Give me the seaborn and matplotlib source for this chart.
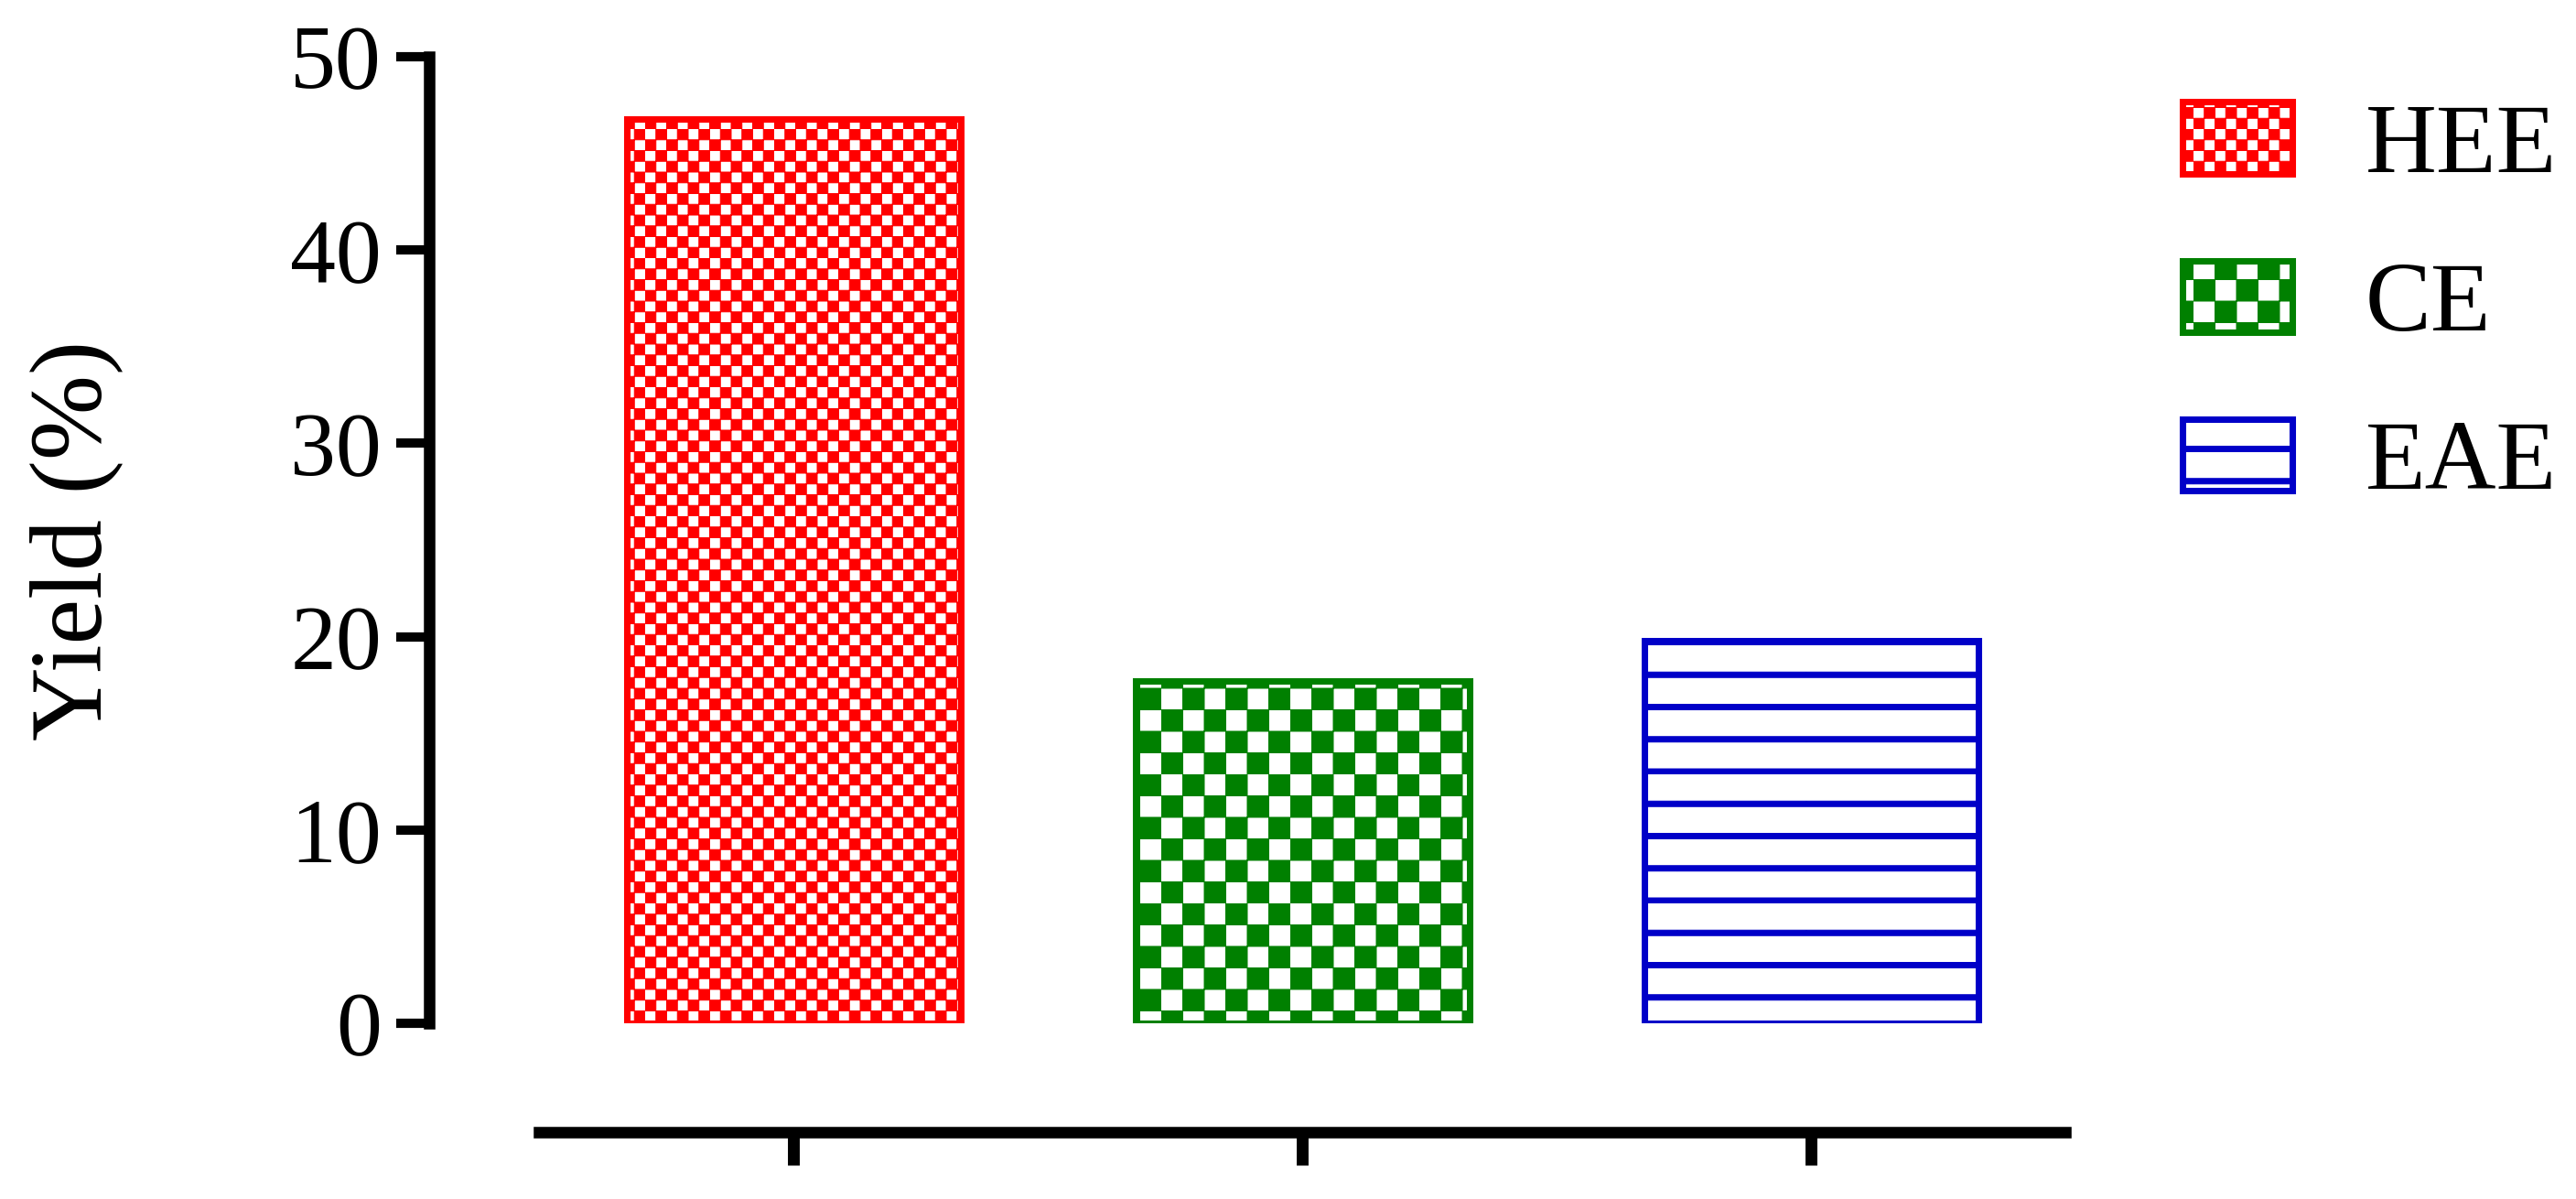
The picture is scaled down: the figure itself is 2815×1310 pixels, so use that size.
import matplotlib
matplotlib.use('Agg')
import matplotlib.pyplot as plt
import matplotlib.hatch as mhatch
from matplotlib.path import Path
import seaborn as sns

# ---------------------------------------------------------------
# data
# ---------------------------------------------------------------
samples = ['HEE', 'CE', 'EAE']
yields = [46.8, 17.7, 19.8]
bar_colors = ['#FF0000', '#008000', '#0000C8']
bar_hatches = ['o', 'O', '-']   # small checker, large checker, bands
y_ticks = [0, 10, 20, 30, 40, 50]

DPI = 141  # hatch tile = 141 px, divides nicely for the patterns below


# ---------------------------------------------------------------
# custom hatch patterns (checkerboards and thick bands)
# ---------------------------------------------------------------
class CheckerHatch(mhatch.HatchPatternBase):
    filled = True

    def __init__(self, hatch, density):
        if 'o' in hatch:
            self.n = 12
        elif 'O' in hatch:
            self.n = 6
        else:
            self.n = 0
        self.squares = [(i, j) for i in range(self.n) for j in range(self.n)
                        if (i + j) % 2 == 0]
        self.num_vertices = len(self.squares) * 5

    def set_vertices_and_codes(self, vertices, codes):
        s = 1.0 / self.n
        for k, (i, j) in enumerate(self.squares):
            x0, y0 = i * s, j * s
            vertices[5 * k:5 * k + 5] = [(x0, y0), (x0 + s, y0), (x0 + s, y0 + s),
                                         (x0, y0 + s), (x0, y0)]
            codes[5 * k:5 * k + 5] = [Path.MOVETO, Path.LINETO, Path.LINETO,
                                      Path.LINETO, Path.CLOSEPOLY]


class BandHatch(mhatch.HatchPatternBase):
    filled = True

    def __init__(self, hatch, density):
        self.n = 4 if '-' in hatch else 0
        self.num_vertices = self.n * 5

    def set_vertices_and_codes(self, vertices, codes):
        h = 6.0 / DPI
        for k in range(self.n):
            y0 = k / self.n
            vertices[5 * k:5 * k + 5] = [(0, y0), (1, y0), (1, y0 + h),
                                         (0, y0 + h), (0, y0)]
            codes[5 * k:5 * k + 5] = [Path.MOVETO, Path.LINETO, Path.LINETO,
                                      Path.LINETO, Path.CLOSEPOLY]


mhatch._hatch_types = [CheckerHatch, BandHatch]

# ---------------------------------------------------------------
# style
# ---------------------------------------------------------------
sns.set_theme(style='ticks', rc={
    'axes.edgecolor': 'black', 'xtick.color': 'black', 'ytick.color': 'black',
    'text.color': 'black', 'axes.labelcolor': 'black',
})
plt.rcParams['font.family'] = ['Liberation Serif', 'DejaVu Serif']
plt.rcParams['hatch.linewidth'] = 0.5

fig = plt.figure(figsize=(2815 / DPI, 1310 / DPI), dpi=DPI)
ax = fig.add_axes([0.20941, 0.14656, 0.59254, 0.80611])

sns.barplot(x=samples, y=yields, hue=samples, palette=bar_colors,
            width=0.656, saturation=1, errorbar=None, legend=False, ax=ax)

for bar, col, h in zip(ax.patches, bar_colors, bar_hatches):
    bar.set_facecolor('white')
    bar.set_edgecolor(col)
    bar.set_hatch(h)
    bar.set_linewidth(3.6)

# ---------------------------------------------------------------
# axes
# ---------------------------------------------------------------
sns.despine(ax=ax)
ax.set_xlim(-0.5, 2.5)
ax.set_ylim(0, 50)
ax.spines['left'].set_position(('outward', 61.5))
ax.spines['bottom'].set_position(('outward', 61.0))
ax.spines['left'].set_bounds(0, 50)
ax.spines['bottom'].set_bounds(-0.5, 2.5)
for s in ['left', 'bottom']:
    ax.spines[s].set_linewidth(6.4)

ax.set_yticks(y_ticks)
ax.tick_params(axis='y', length=18.4, width=5.2, pad=8.2, labelsize=51)
ax.tick_params(axis='x', length=18.4, width=6.6, labelbottom=False)
ax.set_xlabel('')
ax.set_ylabel('Yield (%)', fontsize=57)
ax.yaxis.set_label_coords(-0.2731, 0.5)

ax.legend(ax.patches[:3], samples, loc='upper left',
          bbox_to_anchor=(0.8471, 0.9149), bbox_transform=fig.transFigure,
          frameon=False, fontsize=55, handlelength=1.12, handleheight=0.743,
          handletextpad=0.74, labelspacing=0.68, borderpad=0, borderaxespad=0)

fig.savefig('out.png', dpi=DPI)
